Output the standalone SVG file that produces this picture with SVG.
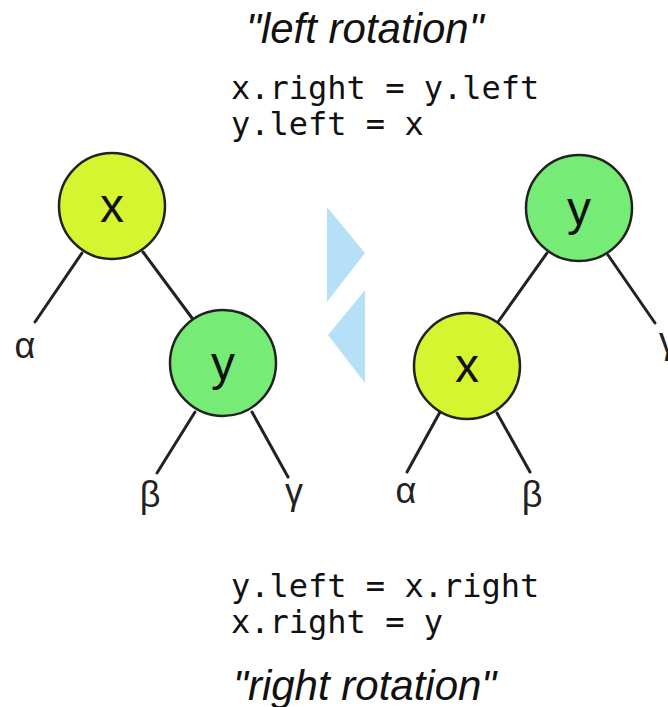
<svg xmlns="http://www.w3.org/2000/svg" width="668" height="707" viewBox="0 0 668 707">
<style>
.edge{stroke:#222;stroke-width:3;fill:none;stroke-linecap:round}
.nx{fill:#d6f531;stroke:#222;stroke-width:2.5}
.ny{fill:#76ec76;stroke:#222;stroke-width:2.5}
.nl{font-family:"Liberation Sans",Arial,sans-serif;font-size:48px;fill:#111;text-anchor:middle}
.gk{font-family:"Liberation Sans",Arial,sans-serif;font-size:36px;fill:#222;text-anchor:middle}
.code{font-family:"DejaVu Sans Mono",monospace;font-size:32px;fill:#111}
.title{font-family:"Liberation Sans",Arial,sans-serif;font-style:italic;font-size:42px;fill:#111}
.arrow{fill:#b6e0f8}
</style>
<rect width="668" height="707" fill="#fff"/>
<g id="connectors">
<line class="edge" x1="82" y1="253" x2="35" y2="322"/>
<line class="edge" x1="143" y1="252" x2="192" y2="318"/>
<line class="edge" x1="195" y1="412" x2="157" y2="473"/>
<line class="edge" x1="252" y1="412" x2="288" y2="477"/>
<line class="edge" x1="547" y1="253" x2="498" y2="322"/>
<line class="edge" x1="608" y1="255" x2="655" y2="323"/>
<line class="edge" x1="440" y1="412" x2="407" y2="472"/>
<line class="edge" x1="497" y1="413" x2="530" y2="472"/>
</g>
<g id="arrows">
<polygon class="arrow" points="327,207 365,253 327,302"/>
<polygon class="arrow" points="365,290 365,383 328,335"/>
</g>
<g id="left-x"><circle class="nx" cx="112" cy="206" r="53"/><text class="nl" x="112" y="222">x</text></g>
<g id="left-y"><circle class="ny" cx="223" cy="363" r="53"/><text class="nl" x="223" y="380">y</text></g>
<g id="right-y"><circle class="ny" cx="579" cy="208" r="53"/><text class="nl" x="579" y="225">y</text></g>
<g id="right-x"><circle class="nx" cx="467" cy="366" r="53"/><text class="nl" x="467" y="382">x</text></g>
<g id="leaves">
<text class="gk" x="25" y="358">α</text>
<text class="gk" x="150" y="507">β</text>
<text class="gk" x="294" y="504">γ</text>
<text class="gk" x="406" y="503">α</text>
<text class="gk" x="532" y="507">β</text>
<text class="gk" x="668" y="353">γ</text>
</g>
<g id="top-text">
<text class="title" x="246" y="43">"left rotation"</text>
<text class="code" x="231" y="99">x.right = y.left</text>
<text class="code" x="231" y="135">y.left = x</text>
</g>
<g id="bottom-text">
<text class="code" x="231" y="597">y.left = x.right</text>
<text class="code" x="231" y="633">x.right = y</text>
<text class="title" x="233" y="700">"right rotation"</text>
</g>
</svg>
